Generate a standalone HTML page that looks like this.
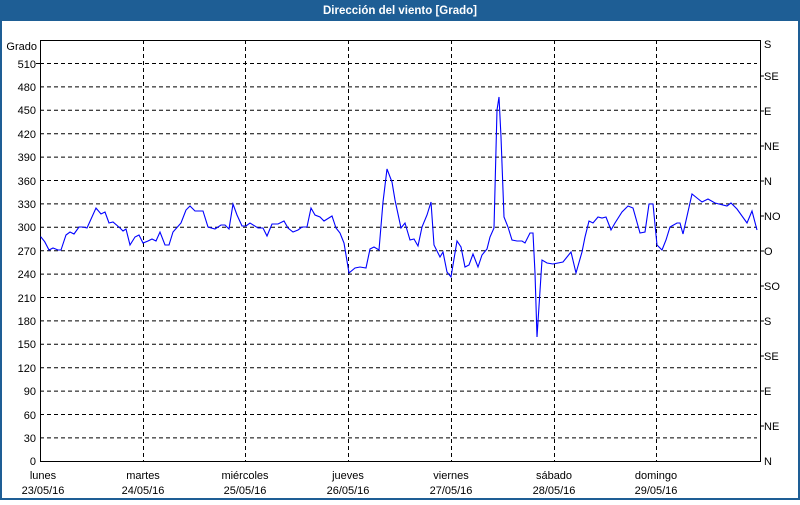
<!DOCTYPE html>
<html><head><meta charset="utf-8"><style>
body{margin:0;width:800px;height:500px;overflow:hidden;background:#fff;font-family:"Liberation Sans",sans-serif}
</style></head><body>
<svg width="800" height="500" xmlns="http://www.w3.org/2000/svg" font-family="Liberation Sans, sans-serif" font-size="11">
<rect x="0" y="0" width="800" height="500" fill="#1e5e95"/>
<rect x="2" y="21" width="796" height="477" fill="#fff"/>
<text x="400" y="14" fill="#fff" font-weight="bold" font-size="11.5" text-anchor="middle">Dirección del viento [Grado]</text>
<g stroke="#000" stroke-dasharray="4,3" stroke-width="1">
<line x1="40" x2="757" y1="63.5" y2="63.5"/><line x1="40" x2="757" y1="86.9" y2="86.9"/><line x1="40" x2="757" y1="110.3" y2="110.3"/><line x1="40" x2="757" y1="133.7" y2="133.7"/><line x1="40" x2="757" y1="157.1" y2="157.1"/><line x1="40" x2="757" y1="180.5" y2="180.5"/><line x1="40" x2="757" y1="203.9" y2="203.9"/><line x1="40" x2="757" y1="227.3" y2="227.3"/><line x1="40" x2="757" y1="250.7" y2="250.7"/><line x1="40" x2="757" y1="274.1" y2="274.1"/><line x1="40" x2="757" y1="297.5" y2="297.5"/><line x1="40" x2="757" y1="320.9" y2="320.9"/><line x1="40" x2="757" y1="344.3" y2="344.3"/><line x1="40" x2="757" y1="367.7" y2="367.7"/><line x1="40" x2="757" y1="391.1" y2="391.1"/><line x1="40" x2="757" y1="414.5" y2="414.5"/><line x1="40" x2="757" y1="437.9" y2="437.9"/>
<line x1="143.5" x2="143.5" y1="40" y2="461"/><line x1="245.5" x2="245.5" y1="40" y2="461"/><line x1="348.5" x2="348.5" y1="40" y2="461"/><line x1="451.5" x2="451.5" y1="40" y2="461"/><line x1="554.5" x2="554.5" y1="40" y2="461"/><line x1="656.5" x2="656.5" y1="40" y2="461"/>
</g>
<path d="M40.5 40.5H760.5V461.5H40.5Z" fill="none" stroke="#000"/>
<g stroke="#000"><line x1="760" x2="764" y1="76" y2="76"/><line x1="760" x2="764" y1="111" y2="111"/><line x1="760" x2="764" y1="146" y2="146"/><line x1="760" x2="764" y1="181" y2="181"/><line x1="760" x2="764" y1="216" y2="216"/><line x1="760" x2="764" y1="251" y2="251"/><line x1="760" x2="764" y1="286" y2="286"/><line x1="760" x2="764" y1="321" y2="321"/><line x1="760" x2="764" y1="356" y2="356"/><line x1="760" x2="764" y1="391" y2="391"/><line x1="760" x2="764" y1="426" y2="426"/>
<line x1="36" x2="40" y1="63.5" y2="63.5"/></g>
<g text-anchor="end" fill="#000">
<text x="37" y="50">Grado</text>
<text x="36" y="68">510</text><text x="36" y="91">480</text><text x="36" y="114">450</text><text x="36" y="138">420</text><text x="36" y="161">390</text><text x="36" y="185">360</text><text x="36" y="208">330</text><text x="36" y="231">300</text><text x="36" y="255">270</text><text x="36" y="278">240</text><text x="36" y="302">210</text><text x="36" y="325">180</text><text x="36" y="348">150</text><text x="36" y="372">120</text><text x="36" y="395">90</text><text x="36" y="419">60</text><text x="36" y="442">30</text><text x="36" y="465">0</text>
</g>
<g fill="#000">
<text x="764" y="48">S</text><text x="764" y="80">SE</text><text x="764" y="115">E</text><text x="764" y="150">NE</text><text x="764" y="185">N</text><text x="764" y="220">NO</text><text x="764" y="255">O</text><text x="764" y="290">SO</text><text x="764" y="325">S</text><text x="764" y="360">SE</text><text x="764" y="395">E</text><text x="764" y="430">NE</text><text x="764" y="465">N</text>
</g>
<g text-anchor="middle" fill="#000">
<text x="43" y="479">lunes</text><text x="43" y="494">23/05/16</text>
<text x="143" y="479">martes</text><text x="143" y="494">24/05/16</text>
<text x="245" y="479">miércoles</text><text x="245" y="494">25/05/16</text>
<text x="348" y="479">jueves</text><text x="348" y="494">26/05/16</text>
<text x="451" y="479">viernes</text><text x="451" y="494">27/05/16</text>
<text x="554" y="479">sábado</text><text x="554" y="494">28/05/16</text>
<text x="656" y="479">domingo</text><text x="656" y="494">29/05/16</text>
</g>
<polyline fill="none" stroke="#0000ff" stroke-width="1.1" points="40.7,236.7 44.7,241.7 49,250 53,248 58,250 61,250 66,235 70,232 74,234 79,227 83,227 87,228 96,208 101,214 105,212 109,223 113,222 120,228 123,231 126,229 130,245 135,237 139,235 143,243 148,241 152,239 156,241 160,232 165,245 169,245 173,232 181,223 186,210 190,206 195,211 203,211 208,227 215,229 221,225 225,225 229,229 233,204 237,215 242,226 246,226 250,223 258,228 263,228 267,236 272,224 278,224 284,221 288,228 293,232 298,230 302,227 307,227 311,208 315,215 320,217 324,221 332,216 336,228 340,233 344,243 349,273 355,268 360,267 366,268 370,249 374,247 379,250 383,202 387,169 392,182 395,200 401,228 405,223 410,240 414,239 418,246 422,227 427,215 431,202 434,245 440,257 443,252 447,272 451,277 457,241 461,247 465,267 469,265 473,254 478,267 482,255 487,249 490,237 494,228 497,110 499,97 501,137 504,217 508,227 512,240 517,241 522,241 525,243 530,233 533,233 535,273 537,337 542,260 547,263 553,264 563,262 571,252 576,273 582,252 585,237 589,221 593,223 598,217 602,218 606,217 611,230 615,223 622,212 628,206 633,208 640,233 645,232 649,204 653,204 657,245 662,250 666,240 670,227 677,223 680,223 683,234 692,194 697,198 702,202 708,199 715,203 727,206 731,203 737,209 747,223 752,211 757,230"/>
</svg>
</body></html>
